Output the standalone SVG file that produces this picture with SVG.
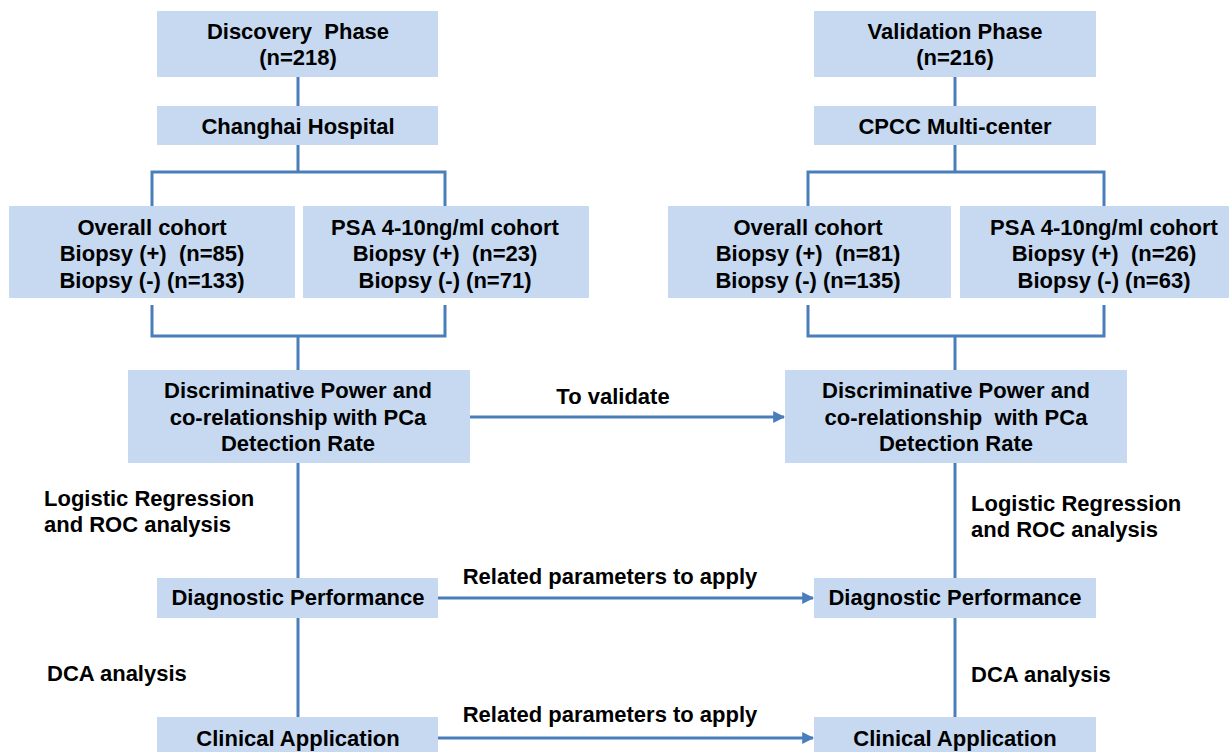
<svg xmlns="http://www.w3.org/2000/svg" width="1229" height="752" viewBox="0 0 1229 752">
<style>
.box{fill:#c6d9f0;stroke:none}
.t{font-family:"Liberation Sans",Arial,sans-serif;font-weight:bold;font-size:22px;fill:#000;white-space:pre}
.c{text-anchor:middle}
.ln{fill:none;stroke:#4a7ebb;stroke-width:3}
</style>
<defs>
<marker id="ah" viewBox="0 0 10 10" refX="9" refY="5" markerWidth="4" markerHeight="4" orient="auto" markerUnits="strokeWidth">
<path d="M0,0 L10,5 L0,10 z" fill="#4a7ebb"/>
</marker>
</defs>
<rect width="1229" height="752" fill="#fff"/>
<g id="connectors">
<path class="ln" d="M298,77 V106 M298,145 V172 M152,206 V172 H445 V206"/>
<path class="ln" d="M152,305 V336 H445 V305 M298,336 V370"/>
<path class="ln" d="M298,463 V578 M298,618 V717"/>
<path class="ln" d="M955,77 V106 M955,145 V172 M808,206 V172 H1104 V206"/>
<path class="ln" d="M808,305 V336 H1104 V305 M955,336 V370"/>
<path class="ln" d="M955,463 V578 M955,618 V717"/>
<path class="ln" d="M470,417 H784" marker-end="url(#ah)"/>
<path class="ln" d="M438,598 H813" marker-end="url(#ah)"/>
<path class="ln" d="M438,738 H813" marker-end="url(#ah)"/>
<text class="t c" x="613" y="404">To validate</text>
<text class="t c" x="610" y="584">Related parameters to apply</text>
<text class="t c" x="610" y="722">Related parameters to apply</text>
<text class="t" x="44" y="506">Logistic Regression</text>
<text class="t" x="44" y="532">and ROC analysis</text>
<text class="t" x="47" y="681">DCA analysis</text>
<text class="t" x="971" y="511">Logistic Regression</text>
<text class="t" x="971" y="537">and ROC analysis</text>
<text class="t" x="971" y="682">DCA analysis</text>
</g>
<g id="discovery">
<rect class="box" x="157" y="11" width="281" height="66"/>
<text class="t c" x="298" y="39" xml:space="preserve">Discovery  Phase</text>
<text class="t c" x="298" y="65">(n=218)</text>
</g>
<g id="changhai">
<rect class="box" x="157" y="106" width="281" height="39"/>
<text class="t c" x="298" y="134">Changhai Hospital</text>
</g>
<g id="overall-left">
<rect class="box" x="9" y="206" width="286" height="92"/>
<text class="t c" x="152" y="235">Overall cohort</text>
<text class="t c" x="152" y="261" xml:space="preserve">Biopsy (+)  (n=85)</text>
<text class="t c" x="152" y="288">Biopsy (-) (n=133)</text>
</g>
<g id="psa-left">
<rect class="box" x="303" y="206" width="286" height="92"/>
<text class="t c" x="445" y="235">PSA 4-10ng/ml cohort</text>
<text class="t c" x="445" y="261" xml:space="preserve">Biopsy (+)  (n=23)</text>
<text class="t c" x="445" y="288">Biopsy (-) (n=71)</text>
</g>
<g id="disc-left">
<rect class="box" x="128" y="370" width="342" height="93"/>
<text class="t c" x="298" y="398">Discriminative Power and</text>
<text class="t c" x="298" y="425">co-relationship with PCa</text>
<text class="t c" x="298" y="451">Detection Rate</text>
</g>
<g id="diag-left">
<rect class="box" x="157" y="578" width="281" height="40"/>
<text class="t c" x="298" y="605">Diagnostic Performance</text>
</g>
<g id="clin-left">
<rect class="box" x="157" y="717" width="281" height="40"/>
<text class="t c" x="298" y="746">Clinical Application</text>
</g>
<g id="validation">
<rect class="box" x="814" y="11" width="282" height="66"/>
<text class="t c" x="955" y="39">Validation Phase</text>
<text class="t c" x="955" y="65">(n=216)</text>
</g>
<g id="cpcc">
<rect class="box" x="814" y="106" width="282" height="39"/>
<text class="t c" x="955" y="134">CPCC Multi-center</text>
</g>
<g id="overall-right">
<rect class="box" x="668" y="206" width="283" height="92"/>
<text class="t c" x="808" y="235">Overall cohort</text>
<text class="t c" x="808" y="261" xml:space="preserve">Biopsy (+)  (n=81)</text>
<text class="t c" x="808" y="288">Biopsy (-) (n=135)</text>
</g>
<g id="psa-right">
<rect class="box" x="960" y="206" width="288" height="92"/>
<text class="t c" x="1104" y="235">PSA 4-10ng/ml cohort</text>
<text class="t c" x="1104" y="261" xml:space="preserve">Biopsy (+)  (n=26)</text>
<text class="t c" x="1104" y="288">Biopsy (-) (n=63)</text>
</g>
<g id="disc-right">
<rect class="box" x="785" y="370" width="342" height="93"/>
<text class="t c" x="956" y="398">Discriminative Power and</text>
<text class="t c" x="956" y="425" xml:space="preserve">co-relationship  with PCa</text>
<text class="t c" x="956" y="451">Detection Rate</text>
</g>
<g id="diag-right">
<rect class="box" x="814" y="578" width="282" height="40"/>
<text class="t c" x="955" y="605">Diagnostic Performance</text>
</g>
<g id="clin-right">
<rect class="box" x="814" y="717" width="282" height="40"/>
<text class="t c" x="955" y="746">Clinical Application</text>
</g>
</svg>
